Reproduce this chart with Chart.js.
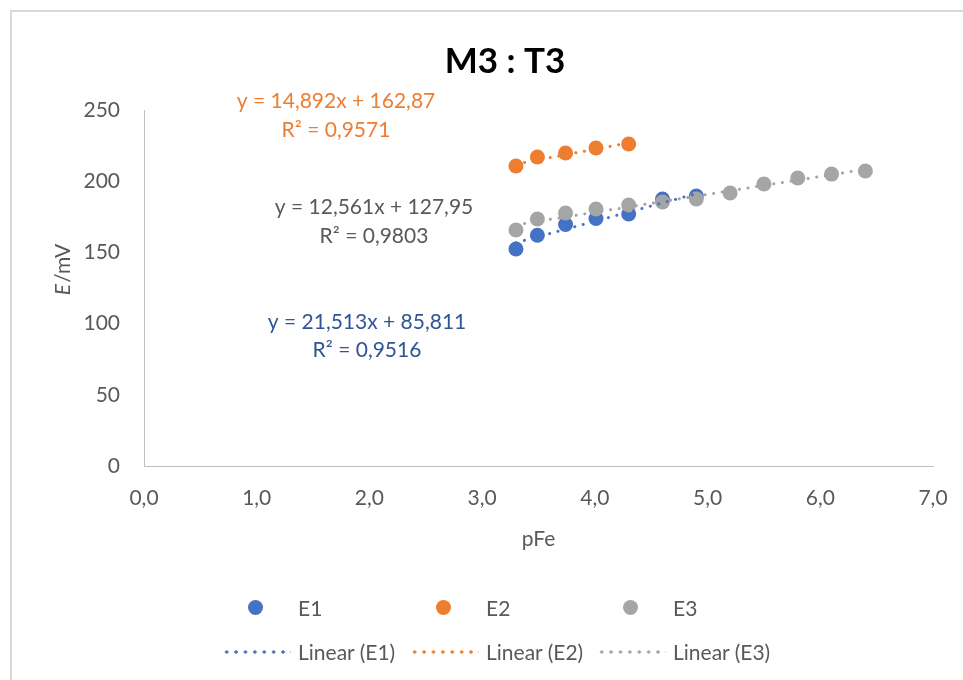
<!DOCTYPE html>
<html>
<head>
<meta charset="utf-8">
<script src="https://cdn.jsdelivr.net/npm/chart.js@4"></script>
<style>
  html, body { margin: 0; padding: 0; background: #fff; overflow: hidden; }
  body { width: 963px; height: 680px; position: relative; font-family: Lato, sans-serif; }
  #frame { position: absolute; left: 10px; top: 10px; width: 2000px; height: 2000px;
           border-left: 2px solid #d9d9d9; border-top: 2px solid #d9d9d9; }
  #wrap { position: absolute; left: 0; top: 0; width: 963px; height: 680px; }
  .leg { position: absolute; font-size: 21px; color: #595959; white-space: nowrap; line-height: 24px; }
  .dot { position: absolute; width: 15px; height: 15px; border-radius: 50%; }
  .dline { position: absolute; height: 4px; width: 69px; background-size: 9.4px 4px; background-repeat: repeat-x; }
</style>
</head>
<body>
<div id="frame"></div>
<div id="wrap"><canvas id="c" width="963" height="680"></canvas></div>
<div id="legend"></div>
<script>
// pFe values and potentials
const pFe = [3.3, 3.49, 3.74, 4.01, 4.3, 4.6, 4.9, 5.2, 5.5, 5.8, 6.1, 6.4];
const E1 = [152.4, 162.0, 169.6, 173.8, 177.0, 187.5, 189.6];
const E2 = [210.7, 217.0, 219.8, 223.3, 226.1];
const E3 = [165.7, 173.5, 177.7, 180.5, 183.3, 185.4, 187.5, 191.7, 198.0, 202.2, 205.0, 207.2];

const seriesNames = ["E1", "E2", "E3"];
const colors = ["#4472C4", "#ED7D31", "#A5A5A5"];
const textColors = ["#2F5597", "#ED7D31", "#595959"];

// trendline equations shown on the chart
const slopes = [21.513, 14.892, 12.561];
const intercepts = [85.811, 162.87, 127.95];
const eqLabels = ["y = 21,513x + 85,811", "y = 14,892x + 162,87", "y = 12,561x + 127,95"];
const r2Labels = ["R² = 0,9516", "R² = 0,9571", "R² = 0,9803"];

const xTicks = [0, 1, 2, 3, 4, 5, 6, 7];
const yTicks = [0, 50, 100, 150, 200, 250];

const allSeries = [E1, E2, E3];

const datasets = [];
allSeries.forEach((s, i) => {
  datasets.push({
    label: seriesNames[i],
    data: s.map((v, k) => ({ x: pFe[k], y: v })),
    showLine: false,
    pointRadius: 7.5,
    pointHoverRadius: 7.5,
    pointBackgroundColor: colors[i],
    pointBorderColor: colors[i],
    pointBorderWidth: 0,
    order: 3 - i
  });
});
allSeries.forEach((s, i) => {
  const x0 = pFe[0], x1 = pFe[s.length - 1];
  datasets.push({
    label: "Linear (" + seriesNames[i] + ")",
    data: [x0, x1].map(x => ({ x: x, y: slopes[i] * x + intercepts[i] })),
    showLine: true,
    pointRadius: 0,
    borderColor: colors[i],
    borderWidth: 3,
    borderDash: [0.1, 8.6],
    borderCapStyle: "round",
    order: 0
  });
});

// title, axis titles and trendline labels
const textPlugin = {
  id: "texts",
  afterDraw(chart) {
    const ctx = chart.ctx;
    const area = chart.chartArea;
    ctx.save();
    ctx.textAlign = "center";
    ctx.textBaseline = "alphabetic";
    ctx.fillStyle = "#000";
    ctx.font = "bold 35px Lato";
    ctx.fillText("M3 : T3", 505, 73);

    const ann = [
      { x: 367, y1: 329, y2: 357 },
      { x: 336, y1: 108, y2: 137 },
      { x: 374, y1: 214, y2: 243 }
    ];
    ctx.font = "21px Lato";
    ann.forEach((a, i) => {
      ctx.fillStyle = textColors[i];
      ctx.fillText(eqLabels[i], a.x, a.y1);
      ctx.fillText(r2Labels[i], a.x, a.y2);
    });

    ctx.fillStyle = "#595959";
    ctx.fillText("pFe", (area.left + area.right) / 2, 546);

    // y axis title with italic E
    ctx.translate(70, 270);
    ctx.rotate(-Math.PI / 2);
    ctx.textAlign = "left";
    ctx.font = "italic 21px Lato";
    const wE = ctx.measureText("E").width;
    ctx.font = "21px Lato";
    const wR = ctx.measureText("/mV").width;
    const start = -(wE + wR) / 2;
    ctx.font = "italic 21px Lato";
    ctx.fillText("E", start, 0);
    ctx.font = "21px Lato";
    ctx.fillText("/mV", start + wE + 1, 0);
    ctx.restore();
  }
};

new Chart(document.getElementById("c"), {
  type: "scatter",
  data: { datasets: datasets },
  options: {
    responsive: false,
    animation: false,
    layout: { padding: { left: 0, right: 30, top: 110, bottom: 0 } },
    plugins: { legend: { display: false }, tooltip: { enabled: false }, title: { display: false } },
    scales: {
      x: {
        type: "linear",
        min: 0, max: 7,
        afterFit(s) { s.height = 214; s.paddingLeft = 0; s.paddingRight = 0; },
        afterBuildTicks(s) { s.ticks = xTicks.map(v => ({ value: v })); },
        grid: { display: false, drawTicks: false },
        border: { color: "#bfbfbf", width: 1 },
        ticks: {
          color: "#595959", font: { family: "Lato", size: 21 }, padding: 20,
          callback: v => v.toFixed(1).replace(".", ",")
        }
      },
      y: {
        type: "linear",
        min: 0, max: 250,
        afterFit(s) { s.width = 144; s.paddingTop = 0; s.paddingBottom = 0; },
        afterBuildTicks(s) { s.ticks = yTicks.map(v => ({ value: v })); },
        grid: { display: false, drawTicks: false },
        border: { color: "#bfbfbf", width: 1 },
        ticks: { color: "#595959", font: { family: "Lato", size: 21 }, padding: 24 }
      }
    }
  },
  plugins: [textPlugin]
});

// legend below the plot
const legend = document.getElementById("legend");
const textX = [298, 486, 673];
seriesNames.forEach((n, i) => {
  const d = document.createElement("div");
  d.className = "dot";
  d.style.left = (textX[i] - 50) + "px";
  d.style.top = "600px";
  d.style.background = colors[i];
  legend.appendChild(d);

  const t = document.createElement("div");
  t.className = "leg";
  t.style.left = textX[i] + "px";
  t.style.top = "596px";
  t.textContent = n;
  legend.appendChild(t);

  const l = document.createElement("div");
  l.className = "dline";
  l.style.left = (textX[i] - 76) + "px";
  l.style.top = "650px";
  l.style.backgroundImage = "radial-gradient(circle, " + colors[i] + " 1.4px, transparent 1.9px)";
  legend.appendChild(l);

  const lt = document.createElement("div");
  lt.className = "leg";
  lt.style.left = textX[i] + "px";
  lt.style.top = "640px";
  lt.textContent = "Linear (" + n + ")";
  legend.appendChild(lt);
});
</script>
</body>
</html>
